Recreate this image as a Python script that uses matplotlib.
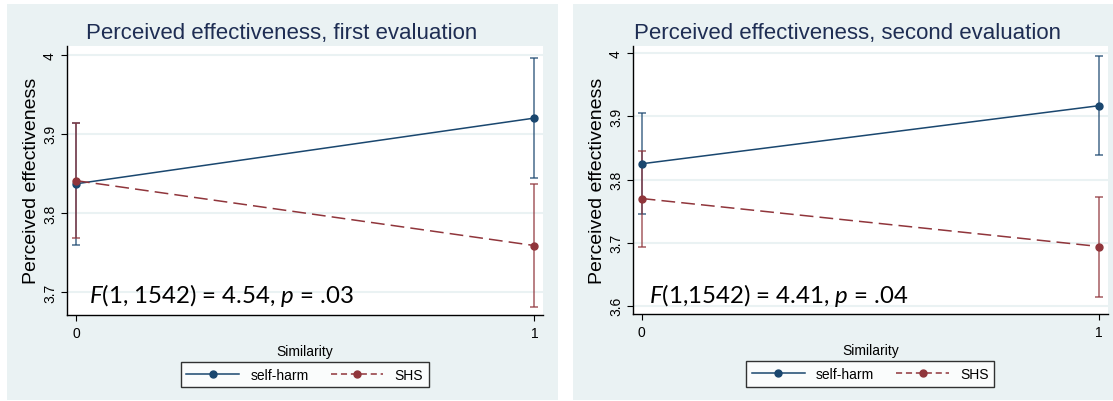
import matplotlib
matplotlib.use("Agg")
import matplotlib.pyplot as plt
from matplotlib.patches import Rectangle

plt.rcParams['font.family'] = ['Liberation Sans', 'DejaVu Sans']
plt.rcParams['mathtext.fontset'] = 'custom'
plt.rcParams['mathtext.rm'] = 'Lato'
plt.rcParams['mathtext.it'] = 'Lato:italic'

# data
similarity = [0, 1]
titles = ['Perceived effectiveness, first evaluation',
          'Perceived effectiveness, second evaluation']
stats = [r'$\mathit{F}$(1, 1542) = 4.54, $\mathit{p}$ = .03',
         r'$\mathit{F}$(1,1542) = 4.41, $\mathit{p}$ = .04']

sh_mean_1 = [3.837, 3.920]
sh_lo_1 = [3.760, 3.844]
sh_hi_1 = [3.914, 3.996]
shs_mean_1 = [3.841, 3.759]
shs_lo_1 = [3.768, 3.682]
shs_hi_1 = [3.914, 3.837]

sh_mean_2 = [3.825, 3.917]
sh_lo_2 = [3.746, 3.839]
sh_hi_2 = [3.905, 3.995]
shs_mean_2 = [3.770, 3.694]
shs_lo_2 = [3.694, 3.614]
shs_hi_2 = [3.845, 3.773]

yticks_1 = [3.7, 3.8, 3.9, 4.0]
yticks_2 = [3.6, 3.7, 3.8, 3.9, 4.0]
ytick_labels_1 = ['3.7', '3.8', '3.9', '4']
ytick_labels_2 = ['3.6', '3.7', '3.8', '3.9', '4']

navy = '#1a476f'
maroon = '#90353b'
bg = '#eaf2f3'

W, H = 1113, 402
fig = plt.figure(figsize=(W / 100, H / 100), dpi=100)
fig.patch.set_facecolor('white')

# panel backgrounds (pixel boxes -> figure fractions)
for x0, x1 in [(7, 558), (573, 1113)]:
    fig.patches.append(Rectangle((x0 / W, (H - 401) / H), (x1 - x0) / W, (401 - 5) / H,
                                 transform=fig.transFigure, facecolor=bg,
                                 edgecolor='none', zorder=-10))

panels = [
    dict(rect=[66.7 / W, (H - 315.7) / H, 476 / W, 269 / H], ylim=(3.6717, 4.0114),
         xlim=(-0.0203, 1.018), yt=yticks_1, ytl=ytick_labels_1,
         sh=(sh_mean_1, sh_lo_1, sh_hi_1), shs=(shs_mean_1, shs_lo_1, shs_hi_1),
         title_x=282, stat_x=89),
    dict(rect=[632.7 / W, (H - 315.2) / H, 475.3 / W, 268.5 / H], ylim=(3.5868, 4.012),
         xlim=(-0.0197, 1.0197), yt=yticks_2, ytl=ytick_labels_2,
         sh=(sh_mean_2, sh_lo_2, sh_hi_2), shs=(shs_mean_2, shs_lo_2, shs_hi_2),
         title_x=847, stat_x=649),
]

dash = (0, (9, 4))

for i, p in enumerate(panels):
    ax = fig.add_axes(p['rect'])
    ax.set_zorder(1)
    ax.set_facecolor('white')
    ax.set_xlim(*p['xlim'])
    ax.set_ylim(*p['ylim'])

    for yv in p['yt']:
        ax.axhline(yv, color=bg, lw=1.5, zorder=0)

    for (m, lo, hi), col, ls in [(p['sh'], navy, '-'), (p['shs'], maroon, dash)]:
        err = [[a - b for a, b in zip(m, lo)], [b - a for a, b in zip(m, hi)]]
        ax.errorbar(similarity, m, yerr=err, fmt='none', ecolor=col, elinewidth=1.1,
                    capsize=3, capthick=1.1, alpha=0.8, zorder=2)
        ax.plot(similarity, m, color=col, ls=ls, lw=1.1, marker='o', ms=5, zorder=3)

    ax.set_xticks(similarity)
    ax.set_xticklabels(['0', '1'])
    ax.set_yticks(p['yt'])
    ax.set_yticklabels(p['ytl'], rotation=90, va='center')
    ax.tick_params(axis='both', length=4, width=0.8, labelsize=10, colors='black')
    ax.tick_params(axis='x', pad=4)
    ax.tick_params(axis='y', pad=3)
    for s in ['top', 'right']:
        ax.spines[s].set_visible(False)
    for s in ['left', 'bottom']:
        ax.spines[s].set_linewidth(1.0)

    ax.set_xlabel('Similarity', fontsize=10, labelpad=3)
    ax.set_ylabel('Perceived effectiveness', fontsize=14, labelpad=2)

    fig.text(p['title_x'] / W, (H - 33) / H, titles[i], ha='center', va='center',
             fontsize=16, color='#1e2d53')
    ax.text(p['stat_x'] / W, (H - 296) / H, stats[i], ha='left', va='center',
            fontsize=17.3, family='Lato', color='black', transform=fig.transFigure,
            zorder=5)

    h1, = ax.plot([], [], color=navy, lw=1.1, marker='o', ms=5)
    h2, = ax.plot([], [], color=maroon, lw=1.1, ls=(0, (4, 2.5)), marker='o', ms=5)
    leg = ax.legend([h1, h2], ['self-harm', 'SHS'], loc='upper center',
                    bbox_to_anchor=(0.5, -0.15), ncol=2, fontsize=10, frameon=True,
                    fancybox=False, edgecolor='black', handlelength=3.8,
                    columnspacing=1.6, borderpad=0.4)
    leg.get_frame().set_linewidth(1.0)

fig.savefig('out.png', dpi=100, facecolor=fig.get_facecolor())
